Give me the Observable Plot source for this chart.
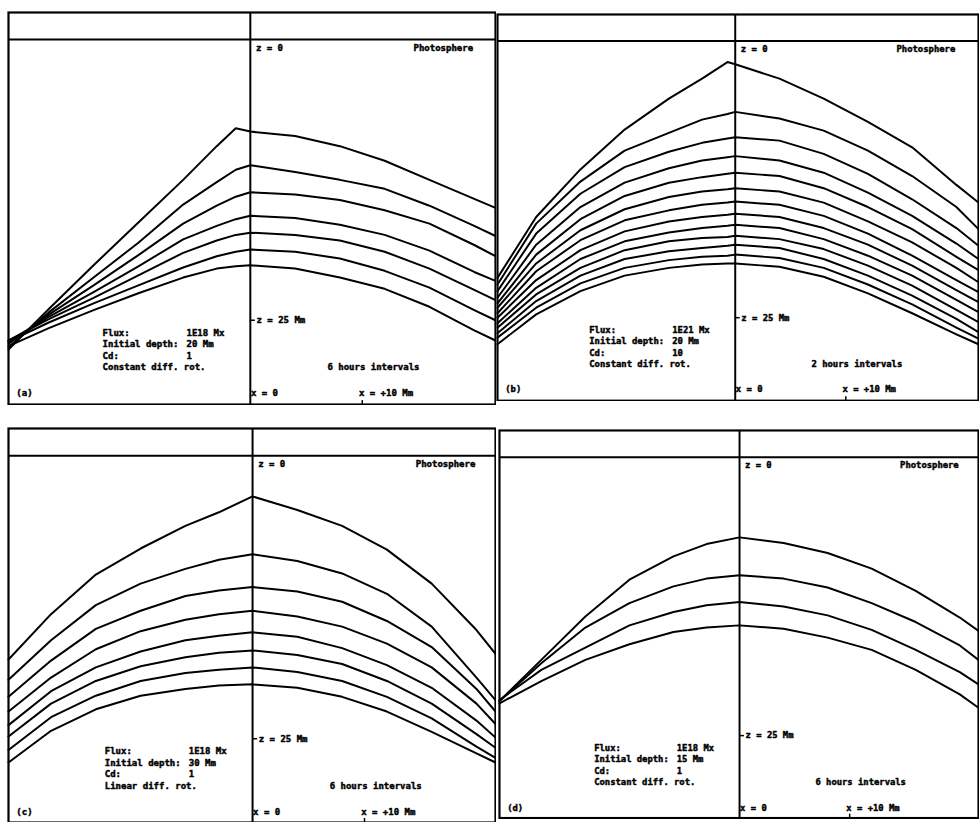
<!DOCTYPE html>
<html><head><meta charset="utf-8">
<script src="https://cdn.jsdelivr.net/npm/d3@7"></script>
<script src="https://cdn.jsdelivr.net/npm/@observablehq/plot@0.6"></script>
<style>
html,body{margin:0;padding:0;background:#fff;}
#fig{position:relative;width:979px;height:822px;overflow:hidden;background:#fff;}
.panel{position:absolute;}
.panel svg{display:block;background:transparent;}
</style></head><body><div id="fig"></div>
<script>
// ---------- DATA (x in Mm, depth z in Mm, positive downwards) ----------
const aX = [-21.6, -18, -14, -10, -6, -3, -1.3, 0, 4, 8, 12, 16, 20, 21.9];
const aDepths = [
  [27.6, 24.0, 20.1, 16.3, 12.5, 9.5, 7.9, 8.2, 8.6, 9.5, 10.8, 12.5, 14.2, 15.0],
  [27.4, 24.3, 21.2, 18.1, 14.7, 12.7, 11.6, 11.2, 11.8, 12.5, 13.3, 14.8, 16.6, 17.5],
  [27.1, 24.5, 21.9, 19.2, 16.4, 14.8, 14.0, 13.6, 13.8, 14.3, 15.2, 16.4, 18.3, 19.3],
  [26.9, 24.7, 22.5, 20.2, 17.8, 16.6, 16.0, 15.7, 15.9, 16.5, 17.4, 18.8, 20.7, 21.5],
  [26.8, 24.9, 23.0, 21.0, 19.0, 17.9, 17.4, 17.2, 17.4, 17.9, 18.9, 20.4, 22.3, 23.2],
  [26.9, 25.2, 23.5, 21.9, 20.3, 19.3, 18.9, 18.7, 18.9, 19.5, 20.6, 22.1, 24.1, 25.0],
  [27.3, 25.7, 24.1, 22.6, 21.2, 20.4, 20.2, 20.1, 20.4, 21.2, 22.2, 23.8, 25.9, 26.8]
];
const bX = [-21.5, -18, -14, -10, -6, -3, -0.7, 0, 4, 8, 12, 16, 20, 22];
const bDepths = [
  [21.4, 15.9, 11.6, 8.0, 5.2, 3.4, 1.9, 2.1, 3.4, 5.2, 7.3, 9.6, 13.0, 14.6],
  [22.0, 16.5, 12.7, 9.9, 8.3, 7.1, 6.6, 6.4, 7.0, 8.1, 9.9, 12.2, 15.0, 17.0],
  [22.6, 17.4, 13.8, 11.4, 10.0, 9.2, 8.8, 8.7, 9.0, 10.2, 12.0, 14.3, 16.9, 18.5],
  [23.2, 18.4, 15.0, 12.8, 11.5, 10.8, 10.5, 10.4, 10.8, 11.9, 13.7, 15.8, 18.3, 19.7],
  [23.7, 19.3, 16.1, 14.0, 12.8, 12.3, 12.0, 11.9, 12.2, 13.3, 15.0, 17.0, 19.5, 20.7],
  [24.1, 20.1, 17.1, 15.2, 14.1, 13.6, 13.4, 13.3, 13.6, 14.6, 16.3, 18.2, 20.5, 21.8],
  [24.6, 20.8, 18.0, 16.2, 15.3, 14.8, 14.6, 14.5, 14.8, 15.8, 17.4, 19.4, 21.6, 22.7],
  [25.0, 21.6, 18.9, 17.2, 16.3, 15.9, 15.7, 15.6, 15.9, 16.9, 18.4, 20.3, 22.5, 23.6],
  [25.5, 22.3, 19.7, 18.1, 17.3, 16.9, 16.7, 16.6, 16.9, 17.9, 19.4, 21.2, 23.4, 24.5],
  [25.9, 22.9, 20.5, 18.9, 18.1, 17.8, 17.7, 17.6, 17.9, 18.8, 20.3, 22.1, 24.3, 25.4],
  [26.4, 23.5, 21.2, 19.7, 19.0, 18.7, 18.5, 18.4, 18.7, 19.7, 21.2, 23.0, 25.1, 26.3],
  [26.8, 24.1, 21.9, 20.5, 19.8, 19.5, 19.4, 19.3, 19.6, 20.5, 22.0, 23.8, 25.9, 26.9],
  [27.4, 24.7, 22.6, 21.2, 20.5, 20.2, 20.1, 20.1, 20.4, 21.3, 22.8, 24.6, 26.5, 27.4]
];
const cX = [-21.8, -18, -14, -10, -6, -3, 0, 4, 8, 12, 16, 20, 21.7];
const cDepths = [
  [18.0, 14.0, 10.5, 8.2, 6.2, 5.0, 3.6, 4.8, 6.2, 8.3, 11.3, 15.4, 17.5],
  [19.8, 16.3, 13.2, 11.3, 10.0, 9.2, 8.7, 9.3, 10.4, 12.2, 15.1, 19.6, 21.6],
  [21.3, 18.1, 15.3, 13.7, 12.4, 11.9, 11.6, 12.0, 12.9, 14.6, 16.9, 20.6, 22.6],
  [22.6, 19.6, 17.1, 15.5, 14.5, 14.0, 13.7, 14.2, 15.1, 16.6, 18.7, 21.9, 23.7],
  [23.8, 20.8, 18.7, 17.3, 16.3, 15.9, 15.6, 16.0, 17.0, 18.5, 20.5, 23.4, 24.9],
  [24.8, 21.9, 19.9, 18.6, 17.8, 17.4, 17.2, 17.6, 18.4, 19.9, 21.9, 24.6, 25.8],
  [26.0, 23.1, 21.2, 19.9, 19.2, 18.9, 18.7, 19.1, 19.9, 21.3, 23.2, 25.7, 26.7],
  [27.1, 24.3, 22.4, 21.2, 20.6, 20.3, 20.2, 20.5, 21.3, 22.6, 24.4, 26.3, 27.1]
];
const dX = [-21.8, -18, -14, -10, -6, -3, 0, 4, 8, 12, 16, 20, 21.7];
const dDepths = [
  [21.9, 18.2, 14.3, 11.0, 8.9, 7.8, 7.2, 7.7, 8.6, 10.0, 12.0, 14.4, 15.6],
  [21.9, 18.5, 15.3, 13.1, 11.6, 10.9, 10.6, 10.9, 11.7, 13.1, 14.8, 16.9, 18.2],
  [21.8, 19.1, 17.1, 15.1, 13.9, 13.3, 13.0, 13.4, 14.2, 15.5, 17.3, 19.3, 20.4],
  [22.1, 20.1, 18.2, 16.8, 15.7, 15.3, 15.1, 15.4, 16.2, 17.3, 19.1, 21.3, 22.5]
];

const panelLetters = ["(a)", "(b)", "(c)", "(d)"];
const fluxValues = ["1E18 Mx", "1E21 Mx", "1E18 Mx", "1E18 Mx"];
const depthValues = ["20 Mm", "20 Mm", "30 Mm", "15 Mm"];
const cdValues = ["1", "10", "1", "1"];
const rotationLabels = ["Constant diff. rot.", "Constant diff. rot.", "Linear diff. rot.", "Constant diff. rot."];
const intervalLabels = ["6 hours intervals", "2 hours intervals", "6 hours intervals", "6 hours intervals"];
const infoKeys = ["Flux:", "Initial depth:", "Cd:"];
const topLabel = "z = 0";
const sideLabel = "Photosphere";
const depthTickLabel = "z = 25 Mm";
const xZeroLabel = "x = 0";
const xTenLabel = "x = +10 Mm";
const depthTick = 25;
const xTick = 10;

// ---------- LAYOUT ----------
const layouts = [
  {left: 8,   top: 12,  w: 487, h: 392, xd: [-21.6, 21.9], zd: [-2.4, 32.5]},
  {left: 497, top: 14,  w: 487, h: 391, xd: [-21.5, 22.0], zd: [-2.4, 32.5]},
  {left: 8,   top: 428, w: 487, h: 394, xd: [-21.8, 21.7], zd: [-2.4, 32.4]},
  {left: 499, top: 430, w: 487, h: 394, xd: [-21.8, 21.7], zd: [-2.4, 32.4]}
];
const xsAll = [aX, bX, cX, dX];
const depthsAll = [aDepths, bDepths, cDepths, dDepths];

const font = {fontFamily: "DejaVu Sans Mono", fontWeight: "bold", fontSize: 9, fill: "black", stroke: "black", strokeWidth: 0.45};
const fig = document.getElementById("fig");

layouts.forEach((L, p) => {
  const rows = [];
  depthsAll[p].forEach((curve, k) => curve.forEach((d, j) => rows.push({x: xsAll[p][j], depth: d, k})));
  const keyRows = infoKeys.map((t, i) => ({x: -13.2, depth: 26.1 + i * 1.03, t}))
    .concat([{x: -13.2, depth: 26.1 + 3 * 1.03, t: rotationLabels[p]}]);
  const valRows = [fluxValues[p], depthValues[p], cdValues[p]].map((t, i) => ({x: -5.7, depth: 26.1 + i * 1.03, t}));
  const zBottom = L.zd[1];
  const svg = Plot.plot({
    width: L.w + 2, height: L.h + 2, margin: 1,
    x: {domain: L.xd, axis: null},
    y: {domain: L.zd, reverse: true, axis: null},
    style: {background: "transparent"},
    marks: [
      Plot.frame({stroke: "black", strokeWidth: 2.2}),
      Plot.ruleY([0], {stroke: "black", strokeWidth: 2}),
      Plot.ruleX([0], {stroke: "black", strokeWidth: 2}),
      Plot.ruleY([depthTick], {x1: 0, x2: 0.45, stroke: "black", strokeWidth: 1.5}),
      Plot.ruleX([xTick], {y1: zBottom - 0.35, y2: zBottom, stroke: "black", strokeWidth: 1.5}),
      Plot.line(rows, {x: "x", y: "depth", z: "k", stroke: "black", strokeWidth: 2, strokeLinejoin: "round"}),
      Plot.text([topLabel], {x: 0.5, y: 0.75, text: d => d, textAnchor: "start", ...font}),
      Plot.text([sideLabel], {x: 19.9, y: 0.75, text: d => d, textAnchor: "end", ...font}),
      Plot.text([depthTickLabel], {x: 0.55, y: depthTick, text: d => d, textAnchor: "start", ...font}),
      Plot.text([intervalLabels[p]], {x: 11.0, y: 29.2, text: d => d, textAnchor: "middle", ...font}),
      Plot.text([xZeroLabel], {x: 0.05, y: 31.5, text: d => d, textAnchor: "start", ...font}),
      Plot.text([xTenLabel], {x: 9.7, y: 31.5, text: d => d, textAnchor: "start", ...font}),
      Plot.text([panelLetters[p]], {x: L.xd[0] + 0.7, y: 31.5, text: d => d, textAnchor: "start", ...font}),
      Plot.text(keyRows, {x: "x", y: "depth", text: "t", textAnchor: "start", ...font}),
      Plot.text(valRows, {x: "x", y: "depth", text: "t", textAnchor: "start", ...font})
    ]
  });
  const div = document.createElement("div");
  div.className = "panel";
  div.style.left = (L.left - 1) + "px";
  div.style.top = (L.top - 1) + "px";
  div.appendChild(svg);
  fig.appendChild(div);
});
</script>
</body></html>
